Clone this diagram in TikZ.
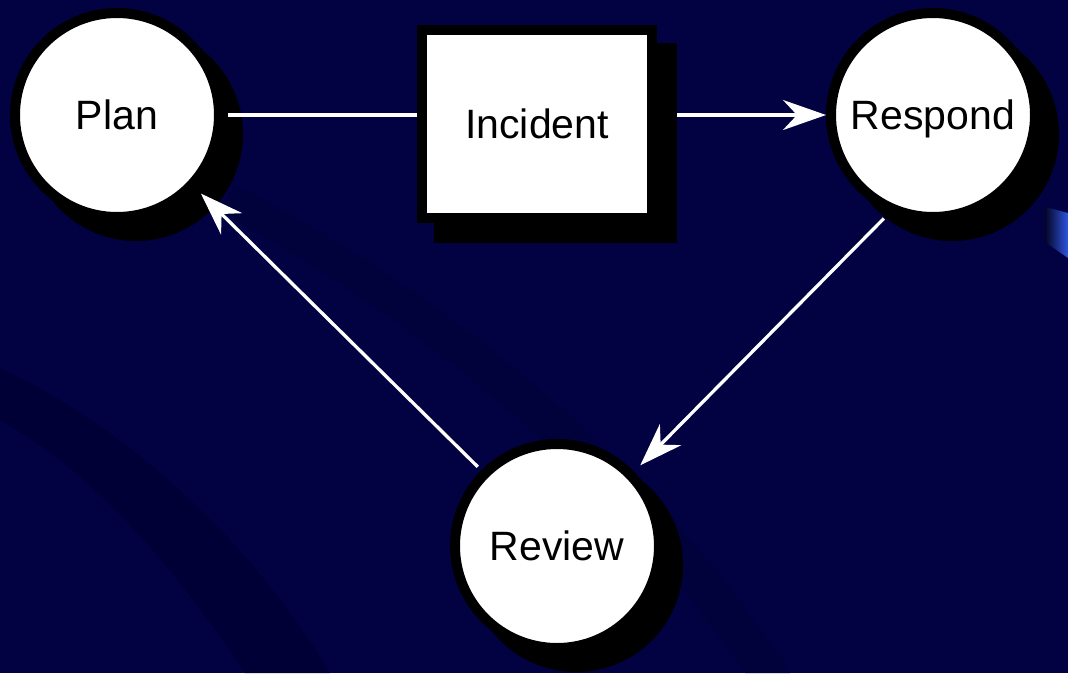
\documentclass[tikz,border=0pt]{standalone}
\usepackage{fontspec}
\setmainfont{Liberation Sans}
\usetikzlibrary{arrows.meta,calc}
\definecolor{bgnavy}{RGB}{2,2,66}
\definecolor{bgdark}{RGB}{0,0,54}
\definecolor{bgdim}{RGB}{1,1,60}
\definecolor{patchblue}{RGB}{45,85,225}
\definecolor{patchdark}{RGB}{4,4,36}
\begin{document}
\begin{tikzpicture}[x=1pt,y=-1pt,
  stage/.style={circle, fill=white, draw=black, line width=10pt,
    minimum size=204pt, inner sep=0pt,
    font=\fontsize{41}{41}\selectfont, text height=29.5pt, text depth=0pt},
  eventbox/.style={rectangle, fill=white, draw=black, line width=10pt,
    minimum width=230pt, minimum height=188pt, inner sep=0pt,
    font=\fontsize{41}{41}\selectfont, text height=29.5pt, text depth=0pt},
  shadowfill/.style={fill=black},
  link/.style={draw=white, line width=3.3pt},
  arrowlink/.style={link, -{Stealth[length=43pt,width=30pt,inset=14pt]}}]
% background
\fill[bgnavy] (0,0) rectangle (1068,673);
\useasboundingbox (0,0) rectangle (1068,673);
\fill[bgdim] (235,185) .. controls (420,280) and (640,440) .. (790,673)
  -- (745,673) .. controls (600,460) and (400,310) .. (220,212) -- cycle;
\fill[bgdark] (0,368) .. controls (130,430) and (250,540) .. (330,673)
  -- (245,673) .. controls (170,560) and (90,470) .. (0,420) -- cycle;
\shade[left color=patchdark, right color=patchblue]
  (1045,207) -- (1068,213) -- (1068,258) -- (1045,242) -- cycle;
% shadows
\fill[shadowfill] (136,134) circle[radius=107pt];
\fill[shadowfill] (952,134) circle[radius=107pt];
\fill[shadowfill] (576,565) circle[radius=107pt];
\fill[shadowfill] (434,43) rectangle (677,243);
% nodes
\node[stage] (plan) at (117,115) {Plan};
\node[eventbox] (incident) at (537,124) {Incident};
\node[stage] (respond) at (933,115) {Respond};
\node[stage] (review) at (557,546) {Review};
% connectors
\draw[link, shorten <=4pt] (plan.east) -- (plan.east -| incident.west);
\draw[arrowlink, shorten <=20pt] (respond.west -| incident.east) -- (respond.west);
\draw[arrowlink, shorten <=8pt, shorten >=9pt] (respond.246) -- (review.44);
\draw[arrowlink, shorten <=5pt, shorten >=8pt] (review.135) -- (plan.-43);
\end{tikzpicture}
\end{document}
